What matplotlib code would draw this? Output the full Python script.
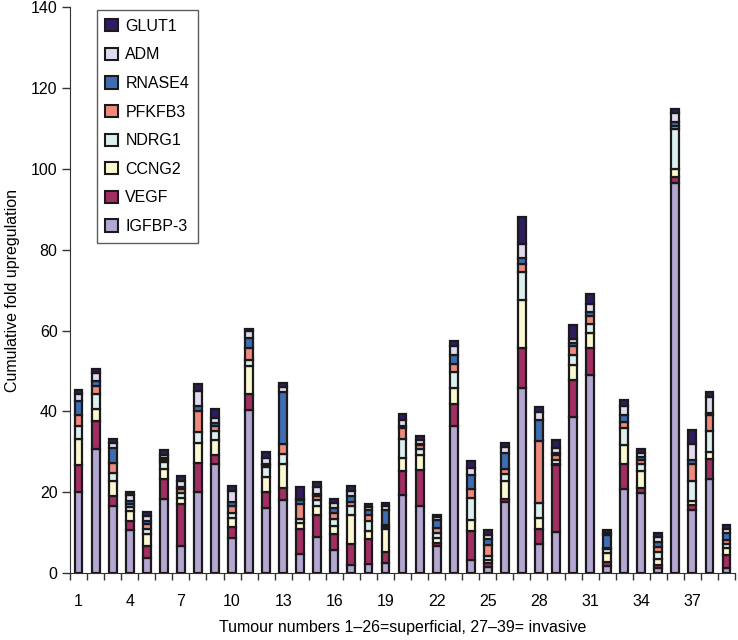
import matplotlib
matplotlib.use("Agg")
import matplotlib.pyplot as plt
import numpy as np
from matplotlib.patches import Patch
from matplotlib.ticker import FixedLocator

plt.rcParams['font.family'] = ['Liberation Sans', 'DejaVu Sans']

tumours = list(range(1, 40))
genes = ["IGFBP-3", "VEGF", "CCNG2", "NDRG1", "PFKFB3", "RNASE4", "ADM", "GLUT1"]
colors = ["#b4a7d2", "#a32e62", "#fbf8d2", "#dcf0f0", "#f08a7e", "#3f6db4", "#e2daee", "#2f1c5e"]

igfbp3 = [20, 30.7, 16.5, 10.6, 3.7, 18.3, 6.7, 20, 27.1, 8.6, 40.4, 16.1, 18.2, 4.8, 9, 5.6, 2.1, 2.3, 2.5, 19.3,
          16.7, 6.7, 36.5, 3.3, 1.5, 17.5, 45.8, 7.1, 10.2, 38.6, 48.9, 1.65, 20.8, 19.75, 1.2, 96.5, 15.6, 23.3, 1.2]
vegf = [6.7, 7.0, 2.7, 2.3, 3.0, 5.0, 10.4, 7.3, 2.2, 2.7, 3.8, 3.9, 2.8, 6.0, 5.3, 4.1, 5.2, 6.2, 2.7, 5.9,
        8.9, 0.7, 5.4, 7.2, 1.0, 0.8, 9.8, 3.7, 16.5, 9.1, 6.9, 1.0, 6.3, 1.25, 0.8, 1.5, 1.3, 4.9, 3.3]
ccng2 = [6.6, 2.9, 3.7, 2.4, 3.1, 2.5, 1.5, 4.8, 3.6, 2.4, 7.05, 3.75, 6.1, 1.7, 2.2, 1.9, 7.0, 1.8, 5.6, 3.3,
         3.7, 1.4, 3.9, 2.6, 0.8, 4.6, 12.0, 2.8, 0.4, 3.8, 3.5, 2.3, 4.6, 4.2, 1.6, 2.0, 1.0, 1.7, 1.7]
ndrg1 = [3.2, 3.7, 1.9, 1.0, 1.0, 1.7, 1.3, 2.7, 2.35, 1.2, 1.45, 2.5, 2.3, 0.8, 1.7, 1.8, 2.3, 2.7, 0.6, 4.6,
         1.5, 1.05, 4.0, 5.5, 1.0, 1.7, 6.9, 3.7, 0.8, 2.4, 2.4, 0.9, 4.1, 1.9, 1.7, 10.0, 5.0, 5.2, 1.1]
pfkfb3 = [2.7, 1.95, 2.45, 0.9, 1.4, 0.5, 0.9, 5.2, 1.25, 1.6, 3.1, 0.4, 2.5, 3.8, 1.0, 1.5, 1.0, 1.4, 0.4, 2.7,
          0.9, 1.2, 2.0, 2.2, 2.7, 1.2, 2.0, 15.4, 1.3, 2.35, 1.9, 0.4, 1.7, 0.8, 1.2, 0.6, 4.0, 3.9, 1.0]
rnase4 = [3.5, 1.25, 3.75, 0.6, 0.7, 0.5, 0.6, 1.25, 0.75, 1.1, 2.4, 0.3, 12.85, 1.0, 0.5, 1.3, 1.5, 1.1, 3.8, 0.6,
          0.3, 2.2, 2.1, 3.5, 1.4, 3.95, 1.5, 5.2, 0.5, 0.6, 1.0, 3.2, 1.7, 0.85, 1.2, 1.0, 1.0, 0.6, 1.6]
adm = [1.6, 1.9, 1.1, 1.5, 1.2, 0.8, 1.5, 3.75, 1.05, 2.8, 1.6, 1.5, 1.35, 0.2, 1.5, 1.2, 1.25, 0.85, 1.1, 1.6,
       0.9, 0.55, 2.2, 1.7, 1.1, 1.5, 3.5, 1.9, 1.3, 1.2, 2.1, 0.55, 2.05, 1.0, 1.3, 2.2, 4.1, 3.9, 1.0]
glut1 = [0.9, 1.0, 1.2, 0.7, 1.0, 1.2, 1.2, 1.9, 2.4, 1.2, 0.6, 1.4, 1.0, 3.0, 1.3, 0.9, 1.25, 0.85, 0.6, 1.3,
         1.0, 0.55, 1.4, 1.7, 1.1, 1.0, 6.6, 1.2, 1.9, 3.3, 2.3, 0.7, 1.65, 1.05, 0.9, 1.0, 3.3, 1.3, 0.9]

series = [igfbp3, vegf, ccng2, ndrg1, pfkfb3, rnase4, adm, glut1]
xticklabels_pos = [1, 4, 7, 10, 13, 16, 19, 22, 25, 28, 31, 34, 37]

fig = plt.figure(figsize=(7.38, 6.4), dpi=100)
ax = fig.add_axes([0.0949, 0.1045, 0.9011, 0.8841])

x = np.array(tumours)
bottom = np.zeros(len(x))
for name, vals, col in zip(genes, series, colors):
    v = np.array(vals, dtype=float)
    ax.bar(x, v, bottom=bottom, width=0.46, color=col, edgecolor="#1a1a1a",
           linewidth=1.6, label=name, zorder=3)
    bottom += v

ax.set_xlim(0.5, 39.5)
ax.set_ylim(0, 140)
ax.set_yticks(range(0, 141, 20))
ax.set_xticks(xticklabels_pos)
ax.set_xticklabels([str(t) for t in xticklabels_pos])
ax.xaxis.set_minor_locator(FixedLocator(np.arange(0.5, 40, 1.0)))
ax.tick_params(axis='x', which='major', length=0, pad=15, labelsize=11.5)
ax.tick_params(axis='x', which='minor', length=5, width=1, direction='out', color='#333333')
ax.tick_params(axis='y', length=6, width=1, direction='out', labelsize=11.5, pad=3, color='#333333')

for s in ['top', 'right']:
    ax.spines[s].set_visible(False)
ax.spines['left'].set_color('#333333')
ax.spines['bottom'].set_color('#333333')

ax.set_ylabel("Cumulative fold upregulation", fontsize=11.5, labelpad=8)
ax.set_xlabel("Tumour numbers 1\u201326=superficial, 27\u201339= invasive", fontsize=11.5, labelpad=8)

handles = [Patch(facecolor=c, edgecolor="#1a1a1a", linewidth=1.5, label=g)
           for g, c in zip(genes, colors)][::-1]
leg = ax.legend(handles=handles, loc='upper left', bbox_to_anchor=(0.04, 0.995),
                fontsize=11.5, frameon=True, fancybox=False, edgecolor='#333333',
                handlelength=0.8, handleheight=0.8, handletextpad=0.45,
                labelspacing=0.85, borderpad=0.55, borderaxespad=0)
leg.get_frame().set_linewidth(1.0)

fig.savefig("out.png", dpi=100)
